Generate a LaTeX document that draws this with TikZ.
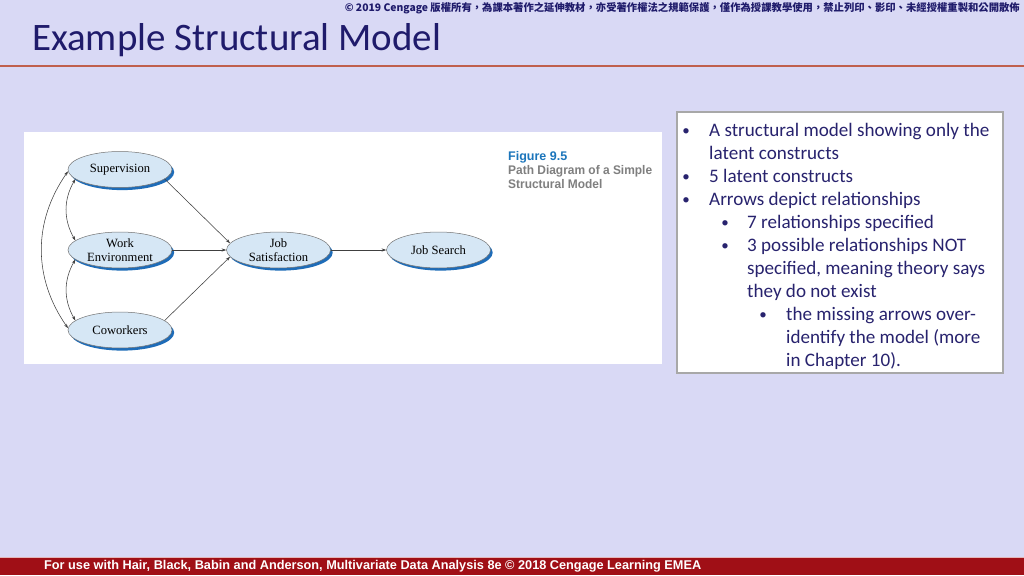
\documentclass[tikz,border=0pt]{standalone}
\usepackage{fontspec}
\setmainfont{Carlito}
\newfontfamily\cjkfont{Noto Sans CJK TC}
\newfontfamily\arialfont{Liberation Sans}
\newfontfamily\nodefont{Liberation Serif}
\usetikzlibrary{shapes.geometric,arrows.meta,shadows}
\definecolor{bgc}{HTML}{D9D9F5}
\definecolor{titlec}{HTML}{1F1B6B}
\definecolor{textc}{HTML}{28236E}
\definecolor{linec}{HTML}{C0604D}
\definecolor{barred}{HTML}{A00F16}
\definecolor{nodefill}{HTML}{D6E7F5}
\definecolor{shadowb}{HTML}{1E6CB8}
\definecolor{figblue}{HTML}{1B75BB}
\definecolor{figgray}{HTML}{7F7F7F}
\definecolor{boxborder}{HTML}{A8A8A8}
\tikzset{
  latent/.style={ellipse, draw=black!55, line width=0.5pt, fill=nodefill,
    minimum width=104pt, minimum height=36pt, inner sep=0pt, align=center,
    font=\nodefont\fontsize{12.6}{13.5}\selectfont,
    drop shadow={shadow xshift=2.2pt, shadow yshift=-2.6pt, fill=shadowb, opacity=1}},
  conn/.style={draw=black!75, line width=0.55pt, -{Stealth[length=4.5pt,width=3pt]}},
  biconn/.style={draw=black!75, line width=0.55pt, {Stealth[length=4.5pt,width=3pt]}-{Stealth[length=4.5pt,width=3pt]}},
  bul/.style={anchor=base west, inner sep=0pt, text=textc, font=\fontsize{19.1}{22}\selectfont},
  bulmark/.style={anchor=center, inner sep=0pt, text=textc, font=\fontsize{15}{16}\selectfont},
  figcap/.style={anchor=base west, inner sep=0pt, font=\arialfont\bfseries\fontsize{12.5}{14}\selectfont}
}
\begin{document}
\begin{tikzpicture}[x=1pt,y=-1pt]
\fill[bgc] (0,0) rectangle (1024,575);
\useasboundingbox (0,0) rectangle (1024,575);
% header
\node[anchor=base east, inner sep=0pt, text=titlec] (copy) at (1020,12)
  {\resizebox{675pt}{!}{\cjkfont\bfseries © 2019 Cengage 版權所有，為課本著作之延伸教材，亦受著作權法之規範保護，僅作為授課教學使用，禁止列印、影印、未經授權重製和公開散佈}};
\node[anchor=base west, inner sep=0pt, text=titlec] (title) at (32,51)
  {\resizebox{409pt}{!}{\fontsize{36}{40}\selectfont Example Structural Model}};
\draw[linec, line width=1.3pt] (0,66) -- (1024,66);
% footer
\fill[barred] (0,557) rectangle (1024,575);
\draw[white!70!barred, line width=0.6pt] (0,557.3) -- (1024,557.3);
\node[anchor=base west, inner sep=0pt, text=white] (foot) at (44,569.5)
  {\resizebox{657pt}{!}{\arialfont\bfseries\fontsize{12}{14}\selectfont For use with Hair, Black, Babin and Anderson, Multivariate Data Analysis 8e © 2018 Cengage Learning EMEA}};
% figure panel
\fill[white] (24,132) rectangle (662,364);
\node[latent] (sup) at (120,169.5) {Supervision};
\node[latent] (work) at (120,250) {Work\\Environment};
\node[latent] (cow) at (120,330) {Coworkers};
\node[latent] (js) at (278.5,250) {Job\\Satisfaction};
\node[latent] (jsr) at (438.5,250) {Job Search};
\draw[conn] (sup.-12) -- (js.172);
\draw[conn] (work.east) -- (js.west);
\draw[conn] (cow.12) -- (js.188);
\draw[conn] (js.east) -- (jsr.west);
\draw[biconn] (sup.192) to[out=240,in=120] (work.168);
\draw[biconn] (work.192) to[out=240,in=120] (cow.168);
\draw[biconn] (sup.182) to[out=235,in=125] (cow.178);
\node[figcap, text=figblue] (fig) at (508,160) {Figure 9.5};
\node[figcap, text=figgray] (cap1) at (508,174) {\scalebox{0.955}[1]{Path Diagram of a Simple}};
\node[figcap, text=figgray] (cap2) at (508,188.5) {\scalebox{0.955}[1]{Structural Model}};
% text box
\draw[boxborder, line width=1.8pt, fill=white] (677,112) rectangle (1003,373);
\node[bulmark] (b1) at (686,132) {•};
\node[bul] (t1) at (709,136) {A structural model showing only the};
\node[bul] (t1b) at (709,159) {latent constructs};
\node[bulmark] (b2) at (686,178) {•};
\node[bul] (t2) at (709,182) {5 latent constructs};
\node[bulmark] (b3) at (686,201) {•};
\node[bul] (t3) at (709,205) {Arrows depict relationships};
\node[bulmark] (b4) at (725,224) {•};
\node[bul] (t4) at (747,228) {7 relationships specified};
\node[bulmark] (b5) at (725,247) {•};
\node[bul] (t5) at (747,251) {3 possible relationships NOT};
\node[bul] (t5b) at (747,274) {specified, meaning theory says};
\node[bul] (t5c) at (747,297) {they do not exist};
\node[bulmark] (b6) at (763,316) {•};
\node[bul] (t6) at (786,320) {the missing arrows over-};
\node[bul] (t6b) at (786,343) {identify the model (more};
\node[bul] (t6c) at (786,366) {in Chapter 10).};
\end{tikzpicture}
\end{document}
